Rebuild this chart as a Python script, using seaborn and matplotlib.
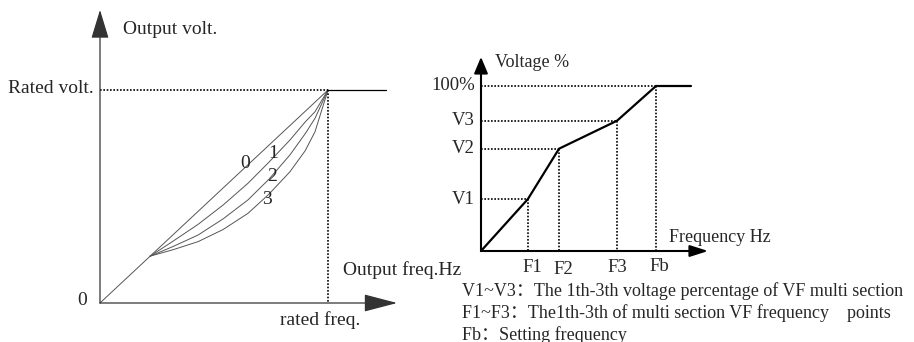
import pandas as pd
import matplotlib.pyplot as plt
import seaborn as sns

# left diagram: % of rated freq / % of rated volt
knee = (22, 22)
curve_x = [22, 32, 43, 54, 64.9, 74, 83.3, 90, 94.3, 100]
curve_0 = [22, 32, 43, 54, 64.9, 74, 83.3, 90, 94.3, 100]
curve_1 = [22, 29, 36.9, 46, 56.2, 66, 76.5, 85, 89.8, 100]
curve_2 = [22, 26.5, 31.9, 39.5, 48.4, 58, 69.5, 79.5, 86.7, 100]
curve_3 = [22, 25, 28.8, 34.5, 42.1, 51, 61.6, 71.5, 80.4, 100]
curve_names = ['0', '1', '2', '3']
label_pos = [(63.6, 65.7), (75.9, 70.0), (75.4, 59.2), (73.2, 48.4)]

# right diagram: multi section VF
vf_freq = [0, 13.4, 22.3, 38.9, 50, 60]
vf_volt = [0, 31.5, 62, 79, 100, 100]
v_labels = ['V1', 'V2', 'V3', '100%']
f_labels = ['F1', 'F2', 'F3', 'Fb']
notes = ['V1~V3：The 1th-3th voltage percentage of VF multi section',
         'F1~F3：The1th-3th of multi section VF frequency    points',
         'Fb：Setting frequency']

sns.set_theme(style="white")
plt.rcParams['font.family'] = ['Liberation Serif', 'Noto Sans CJK SC']

fig = plt.figure(figsize=(9.14, 3.42), dpi=100)
dots = (0, (1, 1))

# ---- left
ax = fig.add_axes([0, 0, 1, 1])
ax.set_xlim(-100 / 2.28, 814 / 2.28)
ax.set_ylim(-39 / 2.13, 303 / 2.13)
ax.axis('off')
ax.patch.set_alpha(0)

gray = '#555555'
ax.annotate('', xy=(130.3, 0), xytext=(0, 0),
            arrowprops=dict(arrowstyle='-|>,head_length=2.1,head_width=0.55', color='#333333',
                            lw=0.9, shrinkA=0, shrinkB=0, mutation_scale=10))
ax.annotate('', xy=(0, 137.6), xytext=(0, 0),
            arrowprops=dict(arrowstyle='-|>,head_length=1.8,head_width=0.55', color='#333333',
                            lw=0.9, shrinkA=0, shrinkB=0, mutation_scale=10))
sns.lineplot(x=[0, knee[0]], y=[0, knee[1]], ax=ax, color=gray, lw=0.7)
for ys in [curve_0, curve_1, curve_2, curve_3]:
    sns.lineplot(x=curve_x, y=ys, ax=ax, color=gray, lw=0.7, estimator=None, sort=False)
sns.lineplot(x=[100, 125.4], y=[100, 100], ax=ax, color='black', lw=0.9)
ax.plot([0, 100], [100, 100], color='black', lw=1.2, ls=dots)
ax.plot([100, 100], [100, 0], color='black', lw=1.2, ls=dots)

for name, (lx, ly) in zip(curve_names, label_pos):
    ax.text(lx, ly, name, fontsize=14, ha='center', va='center')

ax.text(10.1, 128.2, 'Output volt.', fontsize=14, ha='left', va='center')
ax.text(-2.6, 100.5, 'Rated volt.', fontsize=14, ha='right', va='center')
ax.text(-5.7, 1.4, '0', fontsize=14, ha='right', va='center')
ax.text(96.7, -8.0, 'rated freq.', fontsize=14, ha='center', va='center')
ax.text(106.6, 15.5, 'Output freq.Hz', fontsize=14, ha='left', va='center')

# ---- right
ax2 = fig.add_axes([0, 0, 1, 1])
ax2.set_xlim(-481 / 3.5, 433 / 3.5)
ax2.set_ylim(-91 / 1.65, 251 / 1.65)
ax2.axis('off')
ax2.patch.set_alpha(0)

ax2.annotate('', xy=(64.9, 0), xytext=(0, 0),
             arrowprops=dict(arrowstyle='-|>,head_length=1.1,head_width=0.35', color='black',
                             lw=1.5, shrinkA=0, shrinkB=0, mutation_scale=10))
ax2.annotate('', xy=(0, 117.6), xytext=(0, 0),
             arrowprops=dict(arrowstyle='-|>,head_length=1.0,head_width=0.42', color='black',
                             lw=1.5, shrinkA=0, shrinkB=0, mutation_scale=10))
sns.lineplot(x=vf_freq, y=vf_volt, ax=ax2, color='black', lw=1.6, estimator=None, sort=False)

pts = list(zip(vf_freq[1:5], vf_volt[1:5]))
for (fx, vy), vl in zip(pts, v_labels):
    ax2.plot([0, fx], [vy, vy], color='black', lw=1.2, ls=dots)
    ax2.plot([fx, fx], [vy, 0], color='black', lw=1.2, ls=dots)
    ax2.text(-1.7, vy, vl, fontsize=13.5, ha='right', va='center')

f_ys = [-10.3, -11.5, -10.3, -9.1]
f_xs = [14.6, 23.4, 38.9, 50.9]
for fl, fx, fy in zip(f_labels, f_xs, f_ys):
    ax2.text(fx, fy, fl, fontsize=13.5, ha='center', va='center')

ax2.text(4, 114, 'Voltage %', fontsize=13, ha='left', va='center')
ax2.text(53.7, 7.9, 'Frequency Hz', fontsize=13, ha='left', va='center')
for i, line in enumerate(notes):
    ax2.text(-5.4, -24.2 - 13.3 * i, line, fontsize=13, ha='left', va='center')

fig.savefig('out.png', dpi=100)
plt.close()
